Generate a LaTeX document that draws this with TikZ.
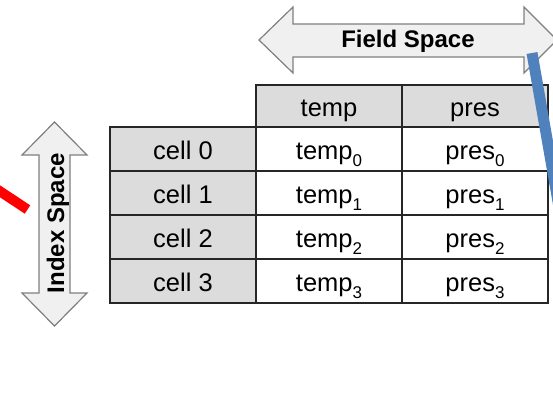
\documentclass[tikz,border=0pt]{standalone}
\usepackage{fontspec}
\setmainfont{Liberation Sans}
\usetikzlibrary{positioning}
\definecolor{headgray}{HTML}{DCDCDC}
\definecolor{arrowgray}{HTML}{F0F0F0}
\definecolor{arrowline}{HTML}{7F7F7F}
\definecolor{linkblue}{HTML}{4F81BD}
\newcommand{\lowidx}[1]{\raisebox{-6.5pt}{\fontsize{17}{20}\selectfont #1}}
\tikzset{
    cell-box/.style = {draw=black!85, line width=1.3pt, rectangle, inner sep=0pt, outer sep=0pt, minimum width=146pt, minimum height=44pt, text height=21pt, text depth=0pt, font=\fontsize{25.5}{30}\selectfont},
    head-box/.style = {cell-box, fill=headgray},
    space-arrow/.style = {draw=arrowline, fill=arrowgray, line width=1.2pt, line join=miter},
    space-title/.style = {anchor=base, inner sep=0pt, font=\fontsize{24}{28}\selectfont\bfseries},
}

\begin{document}
\begin{tikzpicture}[x=1pt, y=-1pt]
\useasboundingbox (0,0) rectangle (553,407);
\clip (0,0) rectangle (553,407);
% the two space arrows
\draw[space-arrow] (259,40) -- (293,7) -- (293,24) -- (524,24) -- (524,7) -- (557,40)
    -- (524,73) -- (524,57) -- (293,57) -- (293,73) -- cycle;
\node[space-title] (fieldlbl) at (408,47) {Field Space};
\draw[space-arrow] (54.5,122) -- (87,155) -- (70,155) -- (70,293) -- (87,293) -- (54.5,326)
    -- (22,293) -- (39,293) -- (39,155) -- (22,155) -- cycle;
\node[space-title, rotate=90] (indexlbl) at (64,223) {Index Space};
% table
\node[head-box, minimum height=42pt, anchor=north west] (hdtemp) at (256,85) {temp};
\node[head-box, minimum height=42pt, right=0pt of hdtemp] (hdpres) {pres};
\foreach \i in {0,...,3} {
    \node[head-box, anchor=north east] (cell\i) at (256,{127+44*\i}) {cell \i};
    \node[cell-box, right=0pt of cell\i] (temp\i) {temp\lowidx{\i}};
    \node[cell-box, right=0pt of temp\i] (pres\i) {pres\lowidx{\i}};
}
% links leaving the picture
\coordinate (redend) at (27.5,209.5);
\coordinate (redout) at (-5,188);
\draw[red, line width=10pt] (redout) -- (redend);
\coordinate (bluetop) at (532,53);
\coordinate (blueout) at (567,253);
\draw[linkblue, line width=11pt] (bluetop) -- (blueout);
\end{tikzpicture}
\end{document}
